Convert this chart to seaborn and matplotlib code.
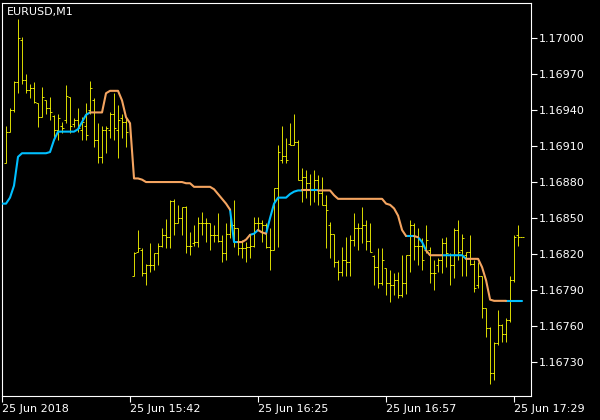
import numpy as np
import pandas as pd
import seaborn as sns
import matplotlib.pyplot as plt

sns.set_theme(style="ticks", rc={
    "figure.facecolor": "black",
    "axes.facecolor": "black",
    "axes.edgecolor": "white",
    "axes.grid": False,
    "xtick.color": "white",
    "ytick.color": "white",
    "text.color": "white",
})
plt.rcParams["font.family"] = ["DejaVu Sans"]

nan = np.nan
symbol = "EURUSD,M1"

# M1 bars, index 0 is the line's first point, 32 has no visible bar
highs = [nan,
         1.16927, 1.16942, 1.16964, 1.17016, 1.17001, 1.16970, 1.16962, 1.16963, 1.16946, 1.16959,
         1.16948, 1.16951, 1.16936, 1.16937, 1.16930, 1.16961, 1.16951, 1.16933, 1.16942, 1.16934,
         1.16946, 1.16964, 1.16950, 1.16929, 1.16927, 1.16927, 1.16938, 1.16954, 1.16944, 1.16937,
         1.16933, nan, 1.16822, 1.16840, 1.16825, 1.16812, 1.16829, 1.16821, 1.16829, 1.16842,
         1.16849, 1.16865, 1.16866, 1.16861, 1.16859, 1.16860, 1.16838, 1.16844, 1.16851, 1.16855,
         1.16850, 1.16846, 1.16844, 1.16854, 1.16836, 1.16846, 1.16857, 1.16865, 1.16842, 1.16832,
         1.16830, 1.16836, 1.16851, 1.16851, 1.16848, 1.16846, 1.16842, 1.16875, 1.16911, 1.16927,
         1.16917, 1.16929, 1.16937, 1.16915, 1.16892, 1.16890, 1.16887, 1.16890, 1.16886, 1.16884,
         1.16869, 1.16847, 1.16837, 1.16815, 1.16826, 1.16834, 1.16836, 1.16854, 1.16846, 1.16859,
         1.16848, 1.16846, 1.16819, 1.16825, 1.16825, 1.16808, 1.16807, 1.16804, 1.16805, 1.16819,
         1.16819, 1.16848, 1.16846, 1.16842, 1.16833, 1.16844, 1.16826, 1.16815, 1.16817, 1.16833,
         1.16834, 1.16821, 1.16842, 1.16848, 1.16837, 1.16822, 1.16836, 1.16815, 1.16813, 1.16802,
         1.16775, 1.16759, 1.16747, 1.16773, 1.16762, 1.16767, 1.16802, 1.16836, 1.16844, 1.16834]
lows = [nan,
        1.16896, 1.16922, 1.16938, 1.16954, 1.16962, 1.16954, 1.16950, 1.16946, 1.16926, 1.16934,
        1.16937, 1.16932, 1.16915, 1.16915, 1.16921, 1.16929, 1.16921, 1.16926, 1.16922, 1.16915,
        1.16915, 1.16937, 1.16909, 1.16896, 1.16896, 1.16904, 1.16917, 1.16915, 1.16900, 1.16917,
        1.16909, nan, 1.16802, 1.16822, 1.16802, 1.16794, 1.16805, 1.16807, 1.16811, 1.16826,
        1.16825, 1.16825, 1.16836, 1.16846, 1.16836, 1.16821, 1.16819, 1.16827, 1.16826, 1.16836,
        1.16830, 1.16823, 1.16830, 1.16830, 1.16813, 1.16815, 1.16833, 1.16826, 1.16819, 1.16817,
        1.16813, 1.16817, 1.16826, 1.16840, 1.16830, 1.16825, 1.16807, 1.16823, 1.16826, 1.16896,
        1.16896, 1.16911, 1.16911, 1.16882, 1.16863, 1.16867, 1.16861, 1.16863, 1.16861, 1.16861,
        1.16825, 1.16817, 1.16809, 1.16798, 1.16802, 1.16802, 1.16802, 1.16827, 1.16823, 1.16829,
        1.16823, 1.16822, 1.16794, 1.16792, 1.16794, 1.16786, 1.16780, 1.16786, 1.16783, 1.16784,
        1.16787, 1.16805, 1.16815, 1.16811, 1.16807, 1.16821, 1.16796, 1.16790, 1.16805, 1.16804,
        1.16809, 1.16794, 1.16800, 1.16815, 1.16802, 1.16802, 1.16811, 1.16788, 1.16792, 1.16767,
        1.16751, 1.16712, 1.16715, 1.16744, 1.16747, 1.16747, 1.16763, 1.16797, 1.16827, 1.16834]
opens = [nan,
         1.16896, 1.16922, 1.16940, 1.16963, 1.16998, 1.16965, 1.16957, 1.16958, 1.16946, 1.16934,
         1.16948, 1.16942, 1.16935, 1.16923, 1.16927, 1.16932, 1.16951, 1.16928, 1.16932, 1.16923,
         1.16927, 1.16940, 1.16948, 1.16915, 1.16901, 1.16923, 1.16923, 1.16937, 1.16923, 1.16933,
         1.16930, nan, 1.16802, 1.16822, 1.16823, 1.16804, 1.16811, 1.16811, 1.16821, 1.16827,
         1.16836, 1.16834, 1.16864, 1.16846, 1.16850, 1.16859, 1.16827, 1.16829, 1.16830, 1.16846,
         1.16846, 1.16846, 1.16836, 1.16836, 1.16831, 1.16821, 1.16837, 1.16844, 1.16842, 1.16825,
         1.16825, 1.16826, 1.16827, 1.16846, 1.16846, 1.16844, 1.16826, 1.16823, 1.16875, 1.16898,
         1.16902, 1.16912, 1.16911, 1.16913, 1.16882, 1.16884, 1.16879, 1.16873, 1.16882, 1.16871,
         1.16861, 1.16844, 1.16837, 1.16813, 1.16805, 1.16815, 1.16813, 1.16832, 1.16842, 1.16842,
         1.16844, 1.16831, 1.16818, 1.16809, 1.16796, 1.16808, 1.16796, 1.16794, 1.16798, 1.16786,
         1.16796, 1.16819, 1.16844, 1.16827, 1.16827, 1.16823, 1.16823, 1.16804, 1.16811, 1.16815,
         1.16829, 1.16819, 1.16811, 1.16840, 1.16823, 1.16819, 1.16822, 1.16812, 1.16794, 1.16802,
         1.16775, 1.16758, 1.16721, 1.16746, 1.16761, 1.16753, 1.16765, 1.16798, 1.16836, 1.16834]
closes = [nan,
          1.16922, 1.16940, 1.16963, 1.17000, 1.16965, 1.16957, 1.16958, 1.16947, 1.16934, 1.16951,
          1.16942, 1.16938, 1.16923, 1.16933, 1.16925, 1.16952, 1.16927, 1.16932, 1.16925, 1.16930,
          1.16919, 1.16958, 1.16915, 1.16901, 1.16923, 1.16925, 1.16937, 1.16925, 1.16932, 1.16930,
          1.16922, nan, 1.16821, 1.16825, 1.16804, 1.16811, 1.16811, 1.16821, 1.16827, 1.16836,
          1.16834, 1.16864, 1.16846, 1.16850, 1.16859, 1.16827, 1.16827, 1.16830, 1.16846, 1.16846,
          1.16846, 1.16836, 1.16836, 1.16831, 1.16821, 1.16837, 1.16844, 1.16842, 1.16825, 1.16825,
          1.16826, 1.16827, 1.16846, 1.16846, 1.16844, 1.16826, 1.16823, 1.16875, 1.16905, 1.16902,
          1.16898, 1.16911, 1.16913, 1.16882, 1.16884, 1.16879, 1.16873, 1.16882, 1.16871, 1.16861,
          1.16857, 1.16837, 1.16813, 1.16805, 1.16815, 1.16813, 1.16832, 1.16842, 1.16842, 1.16844,
          1.16831, 1.16822, 1.16809, 1.16796, 1.16815, 1.16796, 1.16794, 1.16798, 1.16786, 1.16796,
          1.16819, 1.16844, 1.16827, 1.16827, 1.16815, 1.16832, 1.16804, 1.16804, 1.16815, 1.16829,
          1.16821, 1.16811, 1.16840, 1.16822, 1.16833, 1.16822, 1.16812, 1.16792, 1.16802, 1.16775,
          1.16758, 1.16721, 1.16746, 1.16761, 1.16753, 1.16765, 1.16798, 1.16834, 1.16834, 1.16834]

# indicator line, one value per bar index 0..130
trend_line = [1.16862, 1.16862, 1.16867, 1.16877, 1.16901, 1.16904, 1.16904, 1.16904, 1.16904, 1.16904,
              1.16904, 1.16904, 1.16905, 1.16915, 1.16922, 1.16922, 1.16922, 1.16922, 1.16922, 1.16924,
              1.16930, 1.16936, 1.16938, 1.16938, 1.16938, 1.16938, 1.16954, 1.16956, 1.16956, 1.16956,
              1.16948, 1.16934, 1.16929, 1.16883, 1.16883, 1.16882, 1.16880, 1.16880, 1.16880, 1.16880,
              1.16880, 1.16880, 1.16880, 1.16880, 1.16880, 1.16880, 1.16879, 1.16879, 1.16876, 1.16876,
              1.16876, 1.16876, 1.16876, 1.16874, 1.16870, 1.16866, 1.16862, 1.16857, 1.16830, 1.16830,
              1.16830, 1.16832, 1.16836, 1.16837, 1.16840, 1.16838, 1.16837, 1.16850, 1.16862, 1.16867,
              1.16867, 1.16867, 1.16870, 1.16872, 1.16873, 1.16873, 1.16873, 1.16873, 1.16873, 1.16873,
              1.16873, 1.16873, 1.16873, 1.16869, 1.16866, 1.16866, 1.16866, 1.16866, 1.16866, 1.16866,
              1.16866, 1.16866, 1.16866, 1.16866, 1.16866, 1.16866, 1.16862, 1.16861, 1.16858, 1.16852,
              1.16840, 1.16835, 1.16835, 1.16835, 1.16834, 1.16830, 1.16823, 1.16819, 1.16819, 1.16819,
              1.16819, 1.16819, 1.16819, 1.16819, 1.16819, 1.16819, 1.16816, 1.16816, 1.16816, 1.16816,
              1.16809, 1.16798, 1.16782, 1.16781, 1.16781, 1.16781, 1.16781, 1.16781, 1.16781, 1.16781,
              1.16781]
# colour runs of the line: (state, number of segments)
trend_runs = [("up", 22), ("dn", 35), ("up", 2), ("dn", 3), ("up", 2), ("dn", 2),
              ("up", 9), ("dn", 2), ("up", 2), ("dn", 22), ("up", 2), ("dn", 1),
              ("up", 2), ("dn", 4), ("up", 6), ("dn", 10), ("up", 4)]

tick_pos = [0, 32, 64, 96, 128]
tick_labels = ["25 Jun 2018", "25 Jun 15:42", "25 Jun 16:25", "25 Jun 16:57", "25 Jun 17:29"]
price_ticks = [1.16730, 1.16760, 1.16790, 1.16820, 1.16850, 1.16880,
               1.16910, 1.16940, 1.16970, 1.17000]

bars = pd.DataFrame({"open": opens, "high": highs, "low": lows, "close": closes})
bars["idx"] = np.arange(len(bars))
bars = bars.dropna()

rows = []
start = 0
for run_id, (state, n) in enumerate(trend_runs):
    for i in range(start, start + n + 1):
        rows.append({"idx": i, "value": trend_line[i], "state": state, "run": run_id})
    start += n
line_df = pd.DataFrame(rows)

fig = plt.figure(figsize=(6, 4.2), dpi=100)
ax = fig.add_axes([2 / 600, 24 / 420, 528.5 / 600, 393 / 420])

bar_kw = dict(color="#ffff00", lw=0.6, zorder=2)
ax.vlines(bars["idx"], bars["low"], bars["high"], **bar_kw)
ax.hlines(bars["open"], bars["idx"] - 0.45, bars["idx"], **bar_kw)
ax.hlines(bars["close"], bars["idx"], bars["idx"] + 0.45, **bar_kw)

sns.lineplot(data=line_df, x="idx", y="value", hue="state", units="run",
             estimator=None, sort=False, legend=False, lw=1.5, ax=ax, zorder=3,
             palette={"up": "#00bfff", "dn": "#f4a460"})

ax.set_xlim(0, 132.1)
ax.set_ylim(1.167017, 1.170292)
ax.yaxis.tick_right()
ax.set_yticks(price_ticks)
ax.set_yticklabels([f"{p:.5f}" for p in price_ticks])
ax.set_xticks(tick_pos)
ax.set_xticklabels(tick_labels)
for lbl in ax.get_xticklabels():
    lbl.set_horizontalalignment("left")
ax.tick_params(axis="both", colors="white", length=4, width=0.8, labelsize=8, pad=2)
ax.set_xlabel("")
ax.set_ylabel("")
for side in ["left", "right", "top", "bottom"]:
    ax.spines[side].set_visible(True)
    ax.spines[side].set_color("white")
    ax.spines[side].set_linewidth(0.8)

ax.text(0.0095, 0.99, symbol, transform=ax.transAxes, ha="left", va="top",
        color="white", fontsize=8)

fig.savefig("out.png", dpi=100, facecolor="black")
